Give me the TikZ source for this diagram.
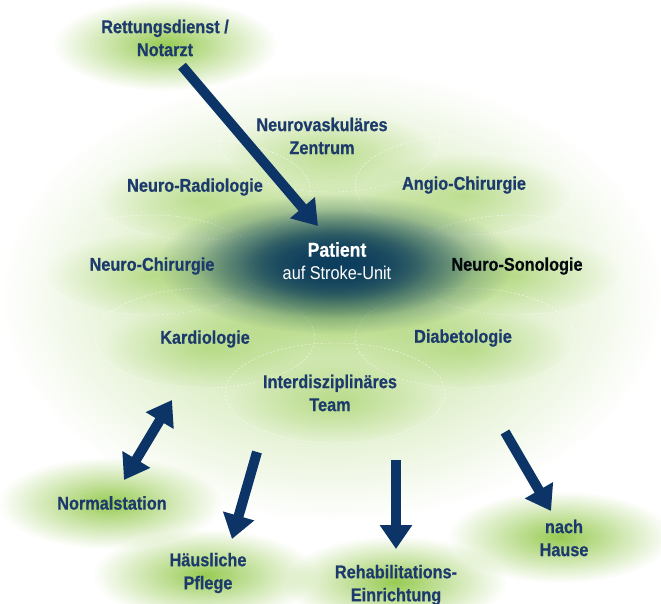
\documentclass[tikz,border=0pt]{standalone}
\usepackage{fontspec}
\setmainfont{Liberation Sans}[FakeStretch=0.88,BoldFeatures={FakeBold=0.6}]
\usetikzlibrary{arrows.meta,fadings}
\definecolor{navytext}{RGB}{28,58,108}
\definecolor{navyarrow}{RGB}{12,52,102}
\definecolor{leafgreen}{RGB}{140,197,64}
\definecolor{patientblue}{RGB}{14,62,94}
\tikzfading[name=glowfade, inner color=transparent!0, outer color=transparent!100]
\begin{document}
\begin{tikzpicture}
[x=1pt,y=-1pt,
  glowdecorate/.style={fill=leafgreen,path fading=glowfade},%
  ringdecorate/.style={draw=white,thin,dash pattern=on 2pt off 2pt,opacity=0.8},%
  labeldecorate/.style={text=navytext,font=\bfseries\fontsize{18.5}{23}\selectfont,align=center},%
  arrowdecorate/.style={draw=navyarrow,line width=10pt,-{Triangle[length=24pt,width=31pt]}}]
\useasboundingbox (0,0) rectangle (661,604);
%% big background glow
\fill[leafgreen,path fading=glowfade,opacity=0.6] (332,295) ellipse (330 and 225);
%% glows and rings of the disciplines
\foreach \x/\y in {330/142, 200/190, 465/185, 150/265, 515/265, 205/338, 465/338, 335/393} {
  \fill[glowdecorate,opacity=0.45] (\x,\y+10) ellipse (105 and 42);
  \draw[ringdecorate] (\x,\y) ellipse (110 and 50);
}
%% core ellipse
\fill[leafgreen,path fading=glowfade,opacity=0.6] (335,268) ellipse (200 and 85);
\fill[patientblue,path fading=glowfade] (335,264) ellipse (178 and 70);
\fill[patientblue,path fading=glowfade] (335,264) ellipse (140 and 54);
\fill[patientblue,path fading=glowfade,opacity=0.7] (335,264) ellipse (95 and 38);
%% outer glows
\foreach \x/\y in {165/45, 110/503, 205/575, 395/582, 560/537} {
  \fill[glowdecorate,opacity=0.9] (\x,\y) ellipse (112 and 46);
}
%% nodes
\node (notarzt) at (165,38) [labeldecorate] {Rettungsdienst /\\Notarzt};
\node (zentrum) at (322,136) [labeldecorate] {Neurovaskuläres\\Zentrum};
\node (radio) at (195,187) [labeldecorate] {Neuro-Radiologie};
\node (angio) at (464,185) [labeldecorate] {Angio-Chirurgie};
\node (chir) at (152,266) [labeldecorate] {Neuro-Chirurgie};
\node (sono) at (517,266) [labeldecorate,text=black!85!navytext] {Neuro-Sonologie};
\node (patient) at (337,261) [labeldecorate,text=white] {{\fontsize{20}{23}\selectfont Patient}\\\mdseries auf Stroke-Unit};
\node (kardio) at (205,339) [labeldecorate] {Kardiologie};
\node (diabet) at (463,338) [labeldecorate] {Diabetologie};
\node (team) at (330,393) [labeldecorate] {Interdisziplinäres\\Team};
\node (normal) at (112,503) [labeldecorate] {Normalstation};
\node (pflege) at (208,573) [labeldecorate] {Häusliche\\Pflege};
\node (reha) at (396,585) [labeldecorate] {Rehabilitations-\\Einrichtung};
\node (hause) at (564,538) [labeldecorate] {nach\\Hause};
%% arrow ends
\coordinate (inA) at (182,66);
\coordinate (inB) at (318,226);
\coordinate (normA) at (172,400);
\coordinate (normB) at (124,480);
\coordinate (pflegeA) at (257,452);
\coordinate (pflegeB) at (232,539);
\coordinate (rehaA) at (396,460);
\coordinate (rehaB) at (396,549);
\coordinate (hauseA) at (505,432);
\coordinate (hauseB) at (551,511);
%% arrows
\path
  (inA) edge[arrowdecorate] (inB)
  (pflegeA) edge[arrowdecorate] (pflegeB)
  (rehaA) edge[arrowdecorate] (rehaB)
  (hauseA) edge[arrowdecorate] (hauseB)
  (normA) edge[arrowdecorate,{Triangle[length=24pt,width=31pt]}-{Triangle[length=24pt,width=31pt]}] (normB);
\end{tikzpicture}
\end{document}
